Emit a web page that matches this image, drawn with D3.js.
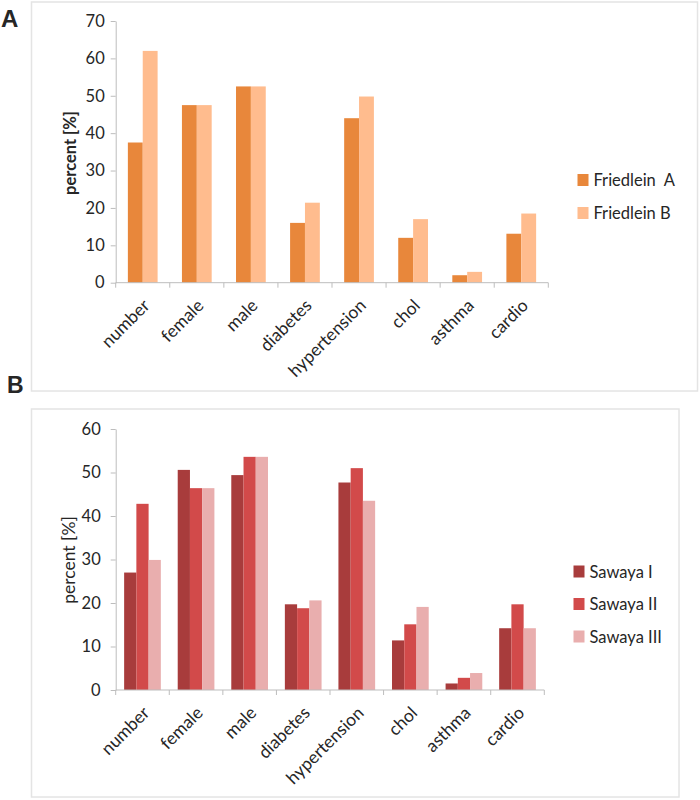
<!DOCTYPE html>
<html>
<head>
<meta charset="utf-8">
<script src="https://cdn.jsdelivr.net/npm/d3@7"></script>
<style>
  body { margin: 0; background: #fff; }
  svg { display: block; }
  text { font-family: Lato, "Open Sans", sans-serif; fill: #262626; }
</style>
</head>
<body>
<svg id="chart" width="700" height="800"></svg>
<script>
// ---------- data ----------
const categories = ["number", "female", "male", "diabetes", "hypertension", "chol", "asthma", "cardio"];

const seriesA = ["Friedlein  A", "Friedlein B"];
const friedleinA = [37.5, 47.5, 52.5, 16, 44, 12, 2, 13.1];
const friedleinB = [62, 47.5, 52.5, 21.4, 49.8, 17, 2.9, 18.5];
const colorsA = ["#E8873B", "#FFBC8E"];
const ticksA = [0, 10, 20, 30, 40, 50, 60, 70];

const seriesB = ["Sawaya I", "Sawaya II", "Sawaya III"];
const sawaya1 = [27, 50.6, 49.4, 19.7, 47.7, 11.4, 1.5, 14.2];
const sawaya2 = [42.8, 46.4, 53.6, 18.8, 51, 15.1, 2.8, 19.7];
const sawaya3 = [29.9, 46.4, 53.6, 20.6, 43.5, 19.1, 3.9, 14.2];
const colorsB = ["#A83C3C", "#D24A4A", "#E9AEAE"];
const ticksB = [0, 10, 20, 30, 40, 50, 60];

const svg = d3.select("#chart");

function panel(opts) {
  const g = svg.append("g");
  // frame
  g.append("rect")
    .attr("x", opts.frame[0]).attr("y", opts.frame[1])
    .attr("width", opts.frame[2]).attr("height", opts.frame[3])
    .attr("fill", "none").attr("stroke", "#e4e4e4").attr("stroke-width", 1.5);

  const x = d3.scaleBand().domain(categories)
    .range([opts.x0, opts.x1])
    .paddingInner(opts.pad).paddingOuter(opts.pad / 2);
  const xs = d3.scaleBand().domain(opts.series).range([0, x.bandwidth()]);
  const y = d3.scaleLinear().domain([0, opts.ymax]).range([opts.y0, opts.yTop]);

  // bars
  opts.values.forEach((vals, si) => {
    g.append("g").selectAll("rect").data(vals).join("rect")
      .attr("x", (d, i) => x(categories[i]) + xs(opts.series[si]))
      .attr("y", d => y(d))
      .attr("width", xs.bandwidth())
      .attr("height", d => y(0) - y(d))
      .attr("fill", opts.colors[si]);
  });

  // y axis
  const ya = g.append("g").attr("transform", `translate(${opts.x0},0)`)
    .call(d3.axisLeft(y).tickValues(opts.ticks).tickSize(5).tickPadding(opts.yPad).tickSizeOuter(0));
  ya.select(".domain").attr("stroke", "#bdbdbd");
  ya.selectAll(".tick line").attr("stroke", "#bdbdbd");
  ya.selectAll(".tick text").style("font-size", "16.5px").attr("fill", "#262626");

  // x axis
  const xAxisScale = d3.scalePoint().domain(d3.range(categories.length + 1)).range([opts.x0, opts.x1]);
  const xa = g.append("g").attr("transform", `translate(0,${opts.y0})`);
  xa.append("line").attr("x1", opts.x0).attr("x2", opts.x1)
    .attr("stroke", "#bdbdbd");
  xa.selectAll("line.t").data(d3.range(categories.length + 1)).join("line").attr("class", "t")
    .attr("x1", d => xAxisScale(d)).attr("x2", d => xAxisScale(d))
    .attr("y1", 0).attr("y2", 5).attr("stroke", "#bdbdbd");
  xa.selectAll("text").data(categories).join("text")
    .attr("transform", d => `translate(${x(d) + x.bandwidth() / 2 + 8},${opts.labDy}) rotate(-45)`)
    .attr("text-anchor", "end")
    .style("font-size", "17.5px")
    .text(d => d);

  // y title
  g.append("text")
    .attr("transform", `translate(${opts.titleX},${opts.titleY}) rotate(-90)`)
    .attr("text-anchor", "middle")
    .style("font-size", opts.titleBold ? "16.5px" : "17.5px")
    .style("font-weight", opts.titleBold ? "bold" : "normal")
    .text("percent [%]");

  // legend
  const lg = g.append("g");
  opts.series.forEach((s, i) => {
    lg.append("rect")
      .attr("x", opts.leg[0]).attr("y", opts.leg[1] + i * opts.leg[2])
      .attr("width", 11).attr("height", 12).attr("fill", opts.colors[i]);
    lg.append("text")
      .attr("x", opts.leg[0] + 16).attr("y", opts.leg[1] + i * opts.leg[2] + 12)
      .style("font-size", "16.5px")
      .style("white-space", "pre")
      .text(s);
  });
  return g;
}

panel({
  frame: [31.5, 2, 666, 389],
  x0: 115.7, x1: 548.3, y0: 282.7, yTop: 21, ymax: 70,
  pad: 0.45, series: seriesA, values: [friedleinA, friedleinB], colors: colorsA,
  ticks: ticksA, yPad: 6, labDy: 24,
  titleX: 76, titleY: 153, titleBold: true,
  leg: [577.5, 174, 33]
});

panel({
  frame: [31.5, 409, 647.5, 388],
  x0: 115.7, x1: 544.3, y0: 690, yTop: 429, ymax: 60,
  pad: 0.315, series: seriesB, values: [sawaya1, sawaya2, sawaya3], colors: colorsB,
  ticks: ticksB, yPad: 10, labDy: 24,
  titleX: 75, titleY: 560, titleBold: false,
  leg: [573.5, 565.5, 32.5]
});

// panel letters
svg.append("text").attr("x", 1).attr("y", 27)
  .style("font-family", "Liberation Sans, Arial, sans-serif")
  .style("font-size", "24px").style("font-weight", "bold").attr("fill", "#000").text("A");
svg.append("text").attr("x", 7).attr("y", 393)
  .style("font-family", "Liberation Sans, Arial, sans-serif")
  .style("font-size", "23px").style("font-weight", "bold").attr("fill", "#000").text("B");
</script>
</body>
</html>
